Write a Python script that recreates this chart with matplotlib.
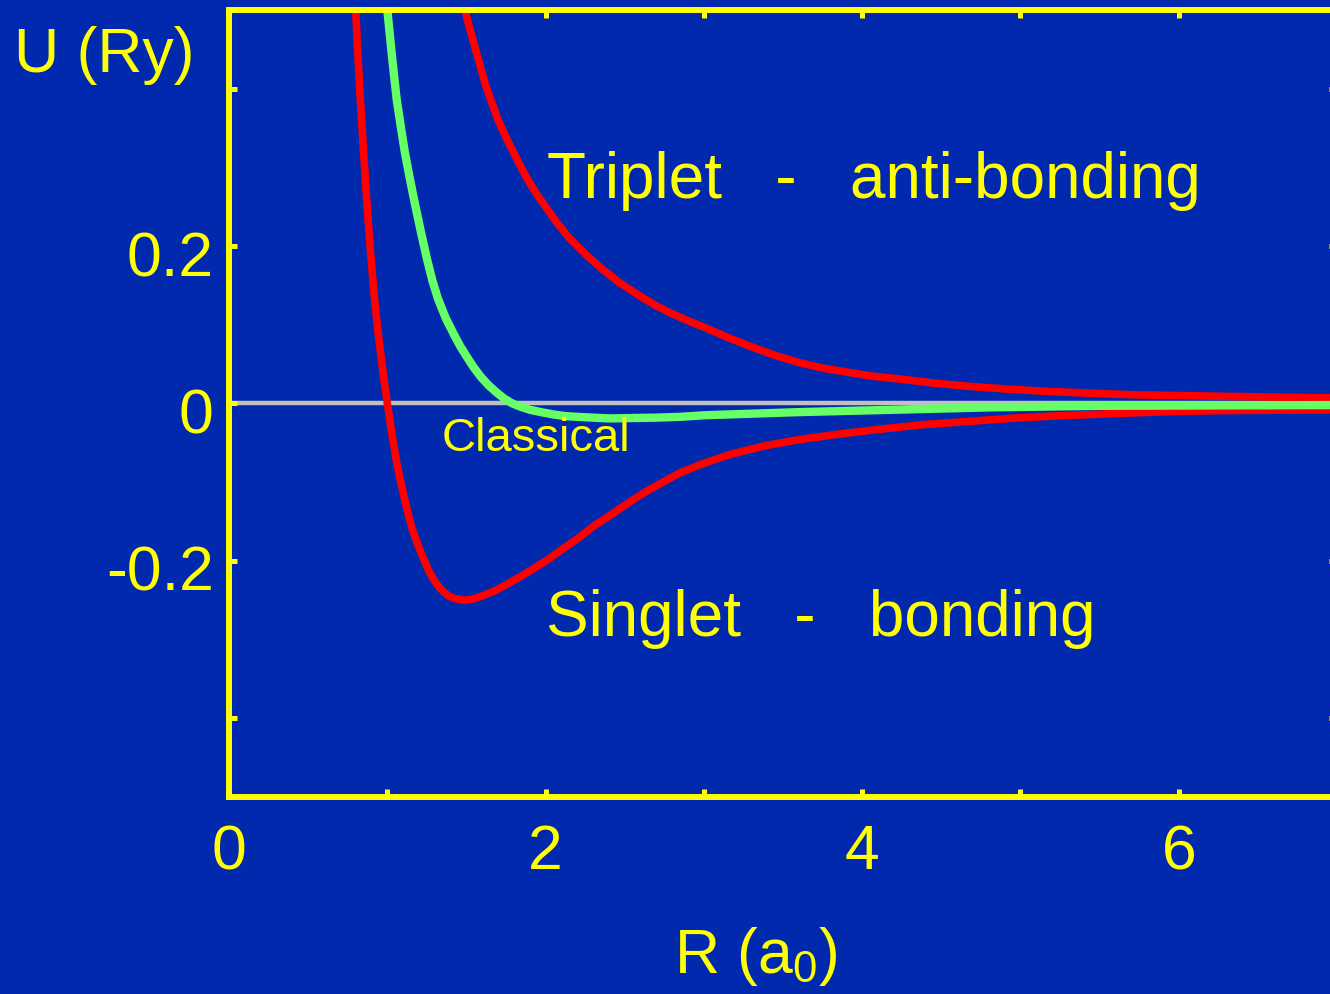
import matplotlib
matplotlib.use("Agg")
import matplotlib.pyplot as plt
from matplotlib.transforms import ScaledTranslation

# curves: R in a0, U in Ry
singlet_r = [0.79, 0.80, 0.815, 0.83, 0.85, 0.87, 0.895, 0.92, 0.94, 0.96, 0.98,
             1.00, 1.03, 1.06, 1.085, 1.11, 1.135, 1.16, 1.19, 1.22, 1.245, 1.27,
             1.30, 1.33, 1.36, 1.39, 1.43, 1.48, 1.53, 1.58, 1.63, 1.69, 1.77,
             1.85, 1.93, 2.01, 2.10, 2.20, 2.31, 2.43, 2.54, 2.65, 2.75, 2.85,
             3.00, 3.16, 3.38, 3.60, 3.85, 4.10, 4.38, 4.66, 4.93, 5.20, 5.45,
             5.71, 6.00, 6.30, 6.65, 7.00]
singlet_u = [0.52, 0.50, 0.44, 0.385, 0.32, 0.258, 0.19, 0.131, 0.093, 0.060, 0.029,
             0.000, -0.040, -0.076, -0.100, -0.122, -0.143, -0.161, -0.178, -0.193,
             -0.205, -0.216, -0.226, -0.234, -0.240, -0.245, -0.248, -0.250, -0.249,
             -0.246, -0.242, -0.237, -0.228, -0.219, -0.209, -0.199, -0.186, -0.172,
             -0.155, -0.139, -0.124, -0.110, -0.099, -0.088, -0.076, -0.065, -0.054,
             -0.046, -0.039, -0.033, -0.027, -0.023, -0.019, -0.016, -0.014, -0.012,
             -0.010, -0.009, -0.0085, -0.008]

triplet_r = [1.48, 1.49, 1.52, 1.55, 1.585, 1.62, 1.66, 1.70, 1.75, 1.80, 1.85, 1.90,
             1.95, 2.00, 2.07, 2.15, 2.25, 2.35, 2.47, 2.60, 2.70, 2.80, 2.90, 3.00,
             3.15, 3.30, 3.45, 3.60, 3.75, 3.90, 4.05, 4.24, 4.45, 4.66, 4.93, 5.20,
             5.45, 5.71, 6.00, 6.30, 6.65, 7.00]
triplet_u = [0.51, 0.50, 0.477, 0.455, 0.430, 0.405, 0.382, 0.360, 0.338, 0.318,
             0.298, 0.280, 0.264, 0.250, 0.230, 0.210, 0.190, 0.172, 0.153, 0.136,
             0.124, 0.114, 0.105, 0.097, 0.084, 0.072, 0.061, 0.052, 0.045, 0.040,
             0.035, 0.031, 0.026, 0.022, 0.018, 0.015, 0.013, 0.011, 0.010, 0.009,
             0.008, 0.007]

classical_r = [0.995, 1.00, 1.015, 1.03, 1.045, 1.06, 1.085, 1.11, 1.14, 1.17, 1.21,
               1.25, 1.285, 1.32, 1.37, 1.42, 1.46, 1.50, 1.545, 1.59, 1.64, 1.69,
               1.74, 1.79, 1.84, 1.90, 1.97, 2.05, 2.12, 2.20, 2.30, 2.40, 2.55,
               2.70, 2.85, 3.00, 3.30, 3.60, 3.90, 4.20, 4.50, 4.80, 5.15, 5.50,
               6.20, 7.00]
classical_u = [0.52, 0.50, 0.47, 0.44, 0.412, 0.385, 0.352, 0.32, 0.288, 0.258,
               0.220, 0.184, 0.156, 0.133, 0.108, 0.088, 0.073, 0.060, 0.046, 0.034,
               0.023, 0.014, 0.006, 0.000, -0.004, -0.008, -0.011, -0.014, -0.016,
               -0.017, -0.018, -0.019, -0.0185, -0.018, -0.017, -0.015, -0.013,
               -0.011, -0.0095, -0.008, -0.0065, -0.005, -0.004, -0.003, -0.0025,
               -0.002]

x_ticks = [0, 1, 2, 3, 4, 5, 6, 7]
x_labels = ["0", "", "2", "", "4", "", "6", ""]
y_ticks = [-0.4, -0.2, 0.0, 0.2, 0.4]
y_labels = ["", "-0.2", "0", "0.2", ""]

BLUE = "#0029ae"
YELLOW = "#ffff00"
RED = "#ff0000"
GREEN = "#66ff66"

plt.rcParams["font.family"] = ["Liberation Sans", "DejaVu Sans"]
plt.rcParams["mathtext.fontset"] = "custom"
plt.rcParams["mathtext.rm"] = "Liberation Sans"
plt.rcParams["mathtext.it"] = "Liberation Sans"

fig = plt.figure(figsize=(13.3, 9.94), dpi=100)
fig.patch.set_facecolor(BLUE)
ax = fig.add_axes([0.1722, 0.1982, 0.8331, 0.7918])
ax.set_facecolor(BLUE)

ax.axhline(0, color="#c0c0c0", linewidth=3.2, zorder=1)
ax.plot(singlet_r, singlet_u, color=RED, linewidth=5.5, zorder=2,
        solid_joinstyle="round")
ax.plot(triplet_r, triplet_u, color=RED, linewidth=5.5, zorder=2,
        solid_joinstyle="round")
ax.plot(classical_r, classical_u, color=GREEN, linewidth=6, zorder=2.2,
        solid_joinstyle="round")

ax.set_xlim(0, 7)
ax.set_ylim(-0.5, 0.5)
ax.set_xticks(x_ticks)
ax.set_xticklabels(x_labels)
ax.set_yticks(y_ticks)
ax.set_yticklabels(y_labels)
ax.tick_params(axis="both", which="both", direction="in", top=True, right=True,
               length=6, width=3.6, color=YELLOW, labelcolor=YELLOW, labelsize=45)
ax.tick_params(axis="x", pad=19)
ax.tick_params(axis="y", pad=11)
for lab in ax.get_yticklabels():
    lab.set_transform(lab.get_transform()
                      + ScaledTranslation(0, -7 / 100, fig.dpi_scale_trans))

for spine in ax.spines.values():
    spine.set_color(YELLOW)
    spine.set_linewidth(4.3)

ax.text(2.01, 0.261, "Triplet   -   anti-bonding", color=YELLOW, fontsize=46,
        ha="left", va="baseline")
ax.text(2.00, -0.295, "Singlet   -   bonding", color=YELLOW, fontsize=46,
        ha="left", va="baseline")
ax.text(1.34, -0.060, "Classical", color=YELLOW, fontsize=34,
        ha="left", va="baseline")

fig.text(14 / 1330, 1 - 72 / 994, "U (Ry)", color=YELLOW, fontsize=45,
         ha="left", va="baseline")
fig.text(674 / 1330, 1 - 973 / 994, "R (a$_0$)", color=YELLOW, fontsize=45,
         ha="left", va="baseline")

fig.savefig("out.png", facecolor=fig.get_facecolor())
